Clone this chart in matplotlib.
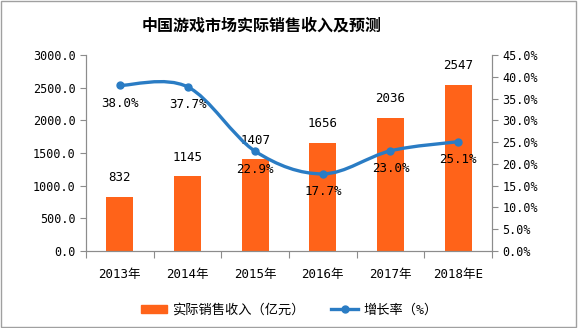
import numpy as np
import matplotlib
matplotlib.use('Agg')
import matplotlib.pyplot as plt
from matplotlib.path import Path
from matplotlib.patches import PathPatch, Patch, Rectangle
from matplotlib.lines import Line2D

plt.rcParams['font.family'] = ['DejaVu Sans Mono', 'Noto Sans CJK SC']

# datos
anios = ['2013年', '2014年', '2015年', '2016年', '2017年', '2018年E']
ingresos = [832, 1145, 1407, 1656, 2036, 2547]
crecimiento = [38.0, 37.7, 22.9, 17.7, 23.0, 25.1]

C_barra = '#FF6319'
C_linea = '#2A7CC4'
C_eje = '#8C8C8C'

fig = plt.figure(figsize=(5.78, 3.28), dpi=100)
ax = fig.add_axes([0.1488, 0.2348, 0.7024, 0.5975])
ax2 = ax.twinx()

x = np.arange(len(anios))
ax.bar(x, ingresos, width=0.4, color=C_barra, zorder=2)
for xi, v in zip(x, ingresos):
    ax.annotate(str(v), (xi, v), xytext=(0, 9), textcoords='offset points',
                ha='center', va='bottom', fontsize=9)

ax.set_xlim(-0.5, len(anios) - 0.5)
ax.set_ylim(0, 3000)
ax.set_yticks(np.arange(0, 3001, 500))
ax.set_yticklabels([f'{v:.1f}' for v in np.arange(0, 3001, 500)], fontsize=8.5)
ax.set_xticks(np.arange(-0.5, len(anios), 1.0))
ax.set_xticklabels([])
ax.set_xticks(x, minor=True)
ax.set_xticklabels(anios, minor=True, fontsize=9)
ax.tick_params(axis='x', which='minor', length=0, pad=12)
ax.tick_params(axis='x', which='major', length=5, color=C_eje)
ax.tick_params(axis='y', length=4, color=C_eje)

ax2.set_ylim(0, 45)
ax2.set_yticks(np.arange(0, 46, 5))
ax2.set_yticklabels([f'{v:.1f}%' for v in np.arange(0, 46, 5)], fontsize=8.5)
ax2.tick_params(axis='y', length=4, color=C_eje)

for a in (ax, ax2):
    for lado in a.spines.values():
        lado.set_color(C_eje)
    a.spines['top'].set_visible(False)

# curva suavizada (Catmull-Rom -> Bezier)
P = np.column_stack([x, crecimiento]).astype(float)
Pe = np.vstack([P[0], P, P[-1]])
verts = [P[0]]
codes = [Path.MOVETO]
for i in range(len(P) - 1):
    p0, p1, p2, p3 = Pe[i], Pe[i + 1], Pe[i + 2], Pe[i + 3]
    verts += [p1 + (p2 - p0) / 6, p2 - (p3 - p1) / 6, p2]
    codes += [Path.CURVE4] * 3
ax2.add_patch(PathPatch(Path(verts, codes), fill=False, edgecolor=C_linea,
                        lw=2.4, zorder=3))
ax2.plot(x, crecimiento, 'o', color=C_linea, ms=5, zorder=4)
for xi, v in zip(x, crecimiento):
    ax2.annotate(f'{v:.1f}%', (xi, v), xytext=(0, -13), textcoords='offset points',
                 ha='center', va='center', fontsize=9)

fig.text(0.453, 0.924, '中国游戏市场实际销售收入及预测', ha='center', va='center',
         fontsize=11.5, fontweight='bold', family='Noto Sans CJK SC')

handles = [Patch(color=C_barra),
           Line2D([], [], color=C_linea, lw=2.4, marker='o', ms=5)]
fig.legend(handles, ['实际销售收入（亿元）', '增长率（%）'], loc='center',
           bbox_to_anchor=(0.5, 0.055), ncol=2, frameon=False, fontsize=9.5,
           handlelength=2.0, handleheight=0.6, columnspacing=2.0, handletextpad=0.4)

fig.add_artist(Rectangle((0.002, 0.003), 0.995, 0.994, transform=fig.transFigure,
                         fill=False, edgecolor='#A0A0A0', lw=1))

fig.savefig('out.png', dpi=100)
